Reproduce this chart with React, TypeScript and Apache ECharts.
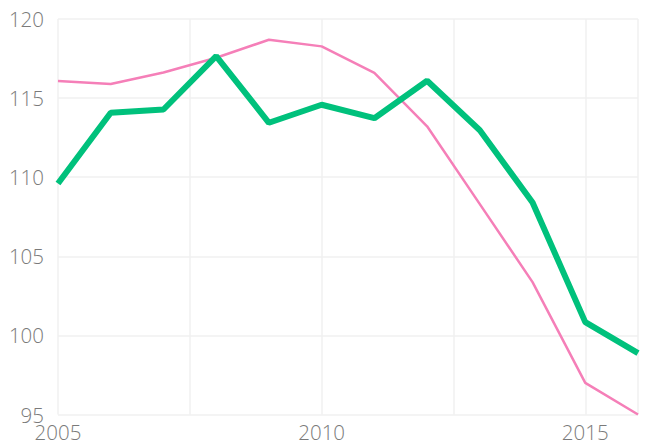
import React, { useEffect, useRef } from "react";
import * as echarts from "echarts";

const years = [2005, 2006, 2007, 2008, 2009, 2010, 2011, 2012, 2013, 2014, 2015, 2016];
const greenValues = [109.6, 114.07, 114.28, 117.66, 113.44, 114.58, 113.73, 116.1, 112.97, 108.4, 100.84, 98.88];
const pinkValues = [116.08, 115.89, 116.62, 117.55, 118.69, 118.27, 116.6, 113.22, 108.3, 103.37, 97.0, 95.0];

export default function App() {
  const ref = useRef<HTMLDivElement>(null);
  useEffect(() => {
    if (!ref.current) return;
    const chart = echarts.init(ref.current, undefined, { renderer: "svg" });
    const font = "'Open Sans', 'Noto Sans', sans-serif";
    chart.setOption({
      animation: false,
      grid: { left: 58, right: 9, top: 19, bottom: 28.5, containLabel: false },
      xAxis: {
        type: "value",
        min: 2005,
        max: 2016,
        interval: 2.5,
        axisLine: { show: false },
        axisTick: { show: false },
        splitLine: { show: true, lineStyle: { color: "#f0f0f0", width: 1.5 } },
        axisLabel: {
          color: "#7a7a7a",
          fontSize: 20.5,
          fontFamily: font,
          fontWeight: 300,
          margin: 7,
          showMaxLabel: false,
          formatter: (v: number) => (v % 5 === 0 ? String(v) : ""),
        },
      },
      yAxis: {
        type: "value",
        min: 95,
        max: 120,
        interval: 5,
        axisLine: { show: false },
        axisTick: { show: false },
        splitLine: { show: true, lineStyle: { color: "#f0f0f0", width: 1.5 } },
        axisLabel: {
          color: "#7a7a7a",
          fontSize: 20.5,
          fontFamily: font,
          fontWeight: 300,
          margin: 14,
        },
      },
      series: [
        {
          type: "line",
          data: years.map((y, i) => [y, pinkValues[i]]),
          showSymbol: false,
          lineStyle: { color: "#f57fb8", width: 2.5 },
          z: 2,
        },
        {
          type: "line",
          data: years.map((y, i) => [y, greenValues[i]]),
          showSymbol: false,
          lineStyle: { color: "#00c17c", width: 6 },
          z: 3,
        },
      ],
    });
    return () => chart.dispose();
  }, []);
  return <div ref={ref} style={{ width: 647, height: 443, position: "absolute", left: 0, top: 0 }} />;
}
